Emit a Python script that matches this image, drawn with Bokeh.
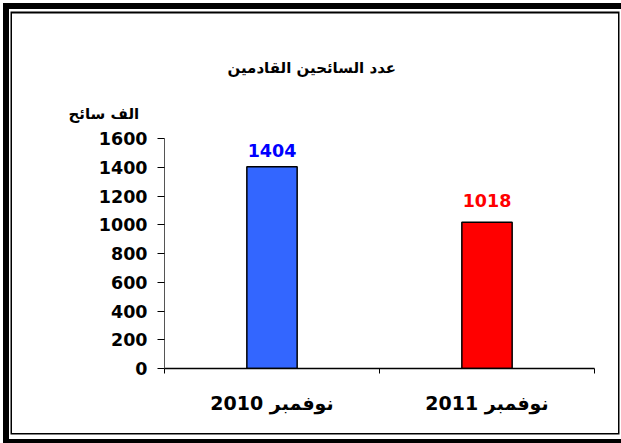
from bokeh.plotting import figure
from bokeh.models import ColumnDataSource, Range1d, FixedTicker, Title
from bokeh.embed import file_html
from bokeh.resources import INLINE

# ---- data ----
categories = ["نوفمبر 2010", "نوفمبر 2011"]
values = [1404, 1018]
y_ticks = [0, 200, 400, 600, 800, 1000, 1200, 1400, 1600]
title_text = "عدد السائحين القادمين"
y_title = "الف سائح"

# ---- style ----
bar_colors = ["#3366FF", "#FF0000"]
label_colors = ["#0000FF", "#FF0000"]
label_gap = [-16, -22]
FONT = "DejaVu Sans"

W, H = 621, 443


def band(side, size, color, K=40):
    if side == "left":
        return f"inset {size + K}px 0 0 -{K}px {color}"
    if side == "top":
        return f"inset 0 {size + K}px 0 -{K}px {color}"
    if side == "right":
        return f"inset -{size + K}px 0 0 -{K}px {color}"
    return f"inset 0 -{size + K}px 0 -{K}px {color}"


shadows = [
    band("left", 3, "white"), band("top", 3, "white"),
    band("left", 9, "black"), band("top", 9, "black"), band("bottom", 4, "black"),
    band("left", 10.5, "white"), band("top", 11.5, "white"),
    band("right", 1.5, "white"), band("bottom", 8.5, "white"),
    band("left", 12, "black"), band("top", 13.5, "black"),
    band("right", 3, "black"), band("bottom", 10, "black"),
]

xs = [i + 0.5 for i in range(len(categories))]
source = ColumnDataSource(dict(
    x=xs, top=values, text=[str(v) for v in values],
    color=bar_colors, tcolor=label_colors, gap=label_gap,
))

p = figure(
    width=W, height=H,
    x_range=Range1d(0, len(categories)),
    y_range=Range1d(0, 1600),
    output_backend="svg", toolbar_location=None, tools="",
    min_border_left=164, min_border_right=27,
    min_border_top=138, min_border_bottom=75,
    styles={"background-color": "white", "box-shadow": ", ".join(shadows)},
)
p.border_fill_alpha = 0
p.background_fill_color = "white"
p.outline_line_color = None
p.xgrid.visible = False
p.ygrid.visible = False

p.vbar(x="x", top="top", bottom=0, width=0.234, source=source,
       fill_color="color", line_color="black", line_width=1.5)

p.text(x="x", y="top", text="text", source=source,
       text_color="tcolor", text_align="center", text_baseline="alphabetic",
       y_offset="gap", text_font_size="17.5px", text_font_style="bold",
       text_font={"value": FONT})

# y axis
ya = p.yaxis[0]
ya.ticker = FixedTicker(ticks=y_ticks)
ya.major_tick_out = 7
ya.major_tick_in = 0
ya.minor_tick_line_color = None
ya.major_tick_line_color = "black"
ya.axis_line_color = "#555555"
ya.major_label_standoff = 10
ya.major_label_text_font = FONT
ya.major_label_text_font_size = "17.5px"
ya.major_label_text_font_style = "bold"
ya.major_label_text_color = "black"

# x axis
xa = p.xaxis[0]
xa.ticker = FixedTicker(ticks=xs, minor_ticks=list(range(len(categories) + 1)))
xa.major_label_overrides = {x: c for x, c in zip(xs, categories)}
xa.major_tick_line_color = None
xa.minor_tick_line_color = "black"
xa.minor_tick_out = 5
xa.minor_tick_in = 0
xa.axis_line_color = "black"
xa.axis_line_width = 1.5
xa.major_label_standoff = 17
xa.major_label_text_font = FONT
xa.major_label_text_font_size = "19px"
xa.major_label_text_font_style = "bold"
xa.major_label_text_color = "black"

# titles (first added sits closest to the frame)
p.add_layout(Title(text=y_title, align="left", offset=-96, standoff=31,
                   vertical_align="bottom", text_color="black",
                   text_font=FONT, text_font_size="15px", text_font_style="bold"),
             "above")
p.add_layout(Title(text=title_text, align="left", offset=63, standoff=21,
                   vertical_align="bottom", text_color="black",
                   text_font=FONT, text_font_size="15px", text_font_style="bold"),
             "above")

open("out.html", "w").write(file_html(p, INLINE))
